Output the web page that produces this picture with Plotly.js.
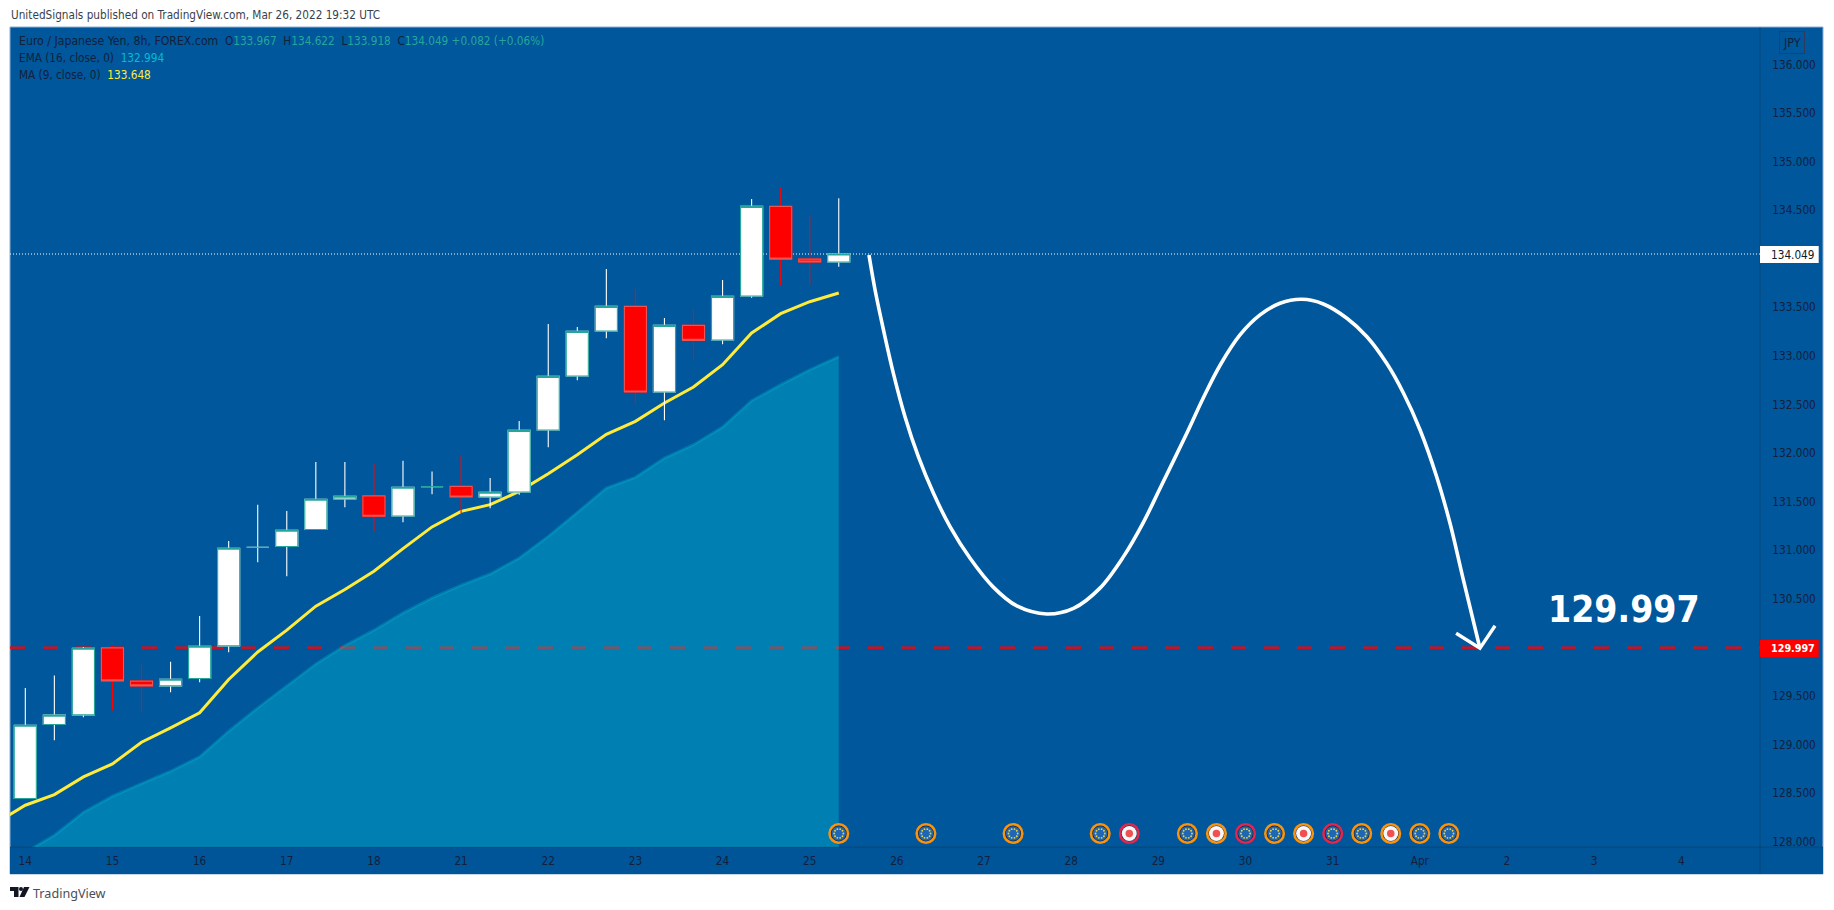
<!DOCTYPE html>
<html>
<head>
<meta charset="utf-8">
<script src="https://cdn.plot.ly/plotly-3.0.1.min.js"></script>
<style>html,body{margin:0;padding:0;background:#fff}#chart{width:1834px;height:910px}</style>
</head>
<body>
<div id="chart"></div>
<script>
// ---- Candles (bar index: 3 bars per trading day)
const barIndex = [0,1,2,3,4,5,6,7,8,9,10,11,12,13,14,15,16,17,18,19,20,21,22,23,24,25,26,27,28];
const open  = [128.444,129.206,129.305,129.995,129.652,129.604,129.679,130.015,131.031,131.038,131.213,131.528,131.559,131.353,131.655,131.657,131.548,131.599,132.237,132.793,133.256,133.510,132.628,133.315,133.164,133.617,134.540,133.997,133.967];
const high  = [129.583,129.710,130.005,130.022,129.840,129.851,130.324,131.096,131.467,131.405,131.909,131.909,131.892,131.920,131.810,131.973,131.743,132.330,133.328,133.298,133.895,133.689,133.390,133.476,133.781,134.615,134.739,134.440,134.622];
const low   = [128.444,129.044,129.281,129.350,129.326,129.538,129.641,129.950,130.876,130.732,131.213,131.443,131.199,131.288,131.576,131.383,131.431,131.572,132.059,132.749,133.181,132.515,132.337,132.954,133.119,133.600,133.726,133.733,133.918];
const close = [129.199,129.302,129.991,129.655,129.604,129.672,130.012,131.021,131.031,131.206,131.525,131.556,131.350,131.648,131.655,131.548,131.596,132.234,132.790,133.253,133.510,132.628,133.315,133.160,133.613,134.540,133.997,133.967,134.049];

// ---- Indicators
const maIndex = [-1,0,1,2,3,4,5,6,7,8,9,10,11,12,13,14,15,16,17,18,19,20,21,22,23,24,25,26,27,28];
const maValues = [128.193,128.375,128.485,128.667,128.801,129.024,129.171,129.326,129.669,129.953,130.177,130.424,130.595,130.784,131.017,131.240,131.400,131.469,131.606,131.788,131.983,132.193,132.327,132.515,132.680,132.910,133.236,133.435,133.558,133.648];
const emaValues = [127.890,128.066,128.303,128.468,128.598,128.725,128.873,129.137,129.377,129.600,129.830,130.019,130.177,130.355,130.509,130.640,130.755,130.920,131.143,131.390,131.640,131.750,131.949,132.086,132.268,132.539,132.704,132.858,132.994];

// ---- Horizontal levels
const targetLevel = 129.997;
const lastPrice = 134.049;

// ---- Hand-drawn projection
const curveX = [29.04,29.25,29.54,29.88,30.28,30.74,31.26,31.83,32.52,33.32,34.13,35.16,36.08,36.99,37.80,38.49,39.06,39.98,40.55,41.13,41.81,42.50,43.19,43.94,44.68,45.49,46.18,46.86,47.44,48.01,48.58,49.04,49.50,50.07];
const curveY = [134.039,133.679,133.267,132.821,132.375,131.963,131.586,131.243,130.917,130.620,130.426,130.344,130.402,130.610,130.934,131.290,131.638,132.204,132.570,132.907,133.216,133.422,133.542,133.583,133.535,133.388,133.198,132.924,132.616,132.238,131.757,131.277,130.694,129.991];
const arrowX = [49.25,50.07,50.59];
const arrowY = [130.145,129.991,130.223];

// ---- Economic event icons
const eventPrice = 128.084;
const euIndex = [28,31,34,37,40,42,43,45,46,48,49];
const euRing  = ['#f7930e','#f7930e','#f7930e','#f7930e','#f7930e','#e0274f','#f7930e','#e0274f','#f7930e','#f7930e','#f7930e'];
const usIndex = [38,41,44,47];
const usRing  = ['#e0274f','#f7930e','#f7930e','#f7930e'];

// ---- Axes
const xTickVals = [0,3,6,9,12,15,18,21,24,27,30,33,36,39,42,45,48,51,54,57];
const xTickText = ['14','15','16','17','18','21','22','23','24','25','26','27','28','29','30','31','Apr','2','3','4'];
const yTickVals = [128,128.5,129,129.5,130.5,131,131.5,132,132.5,133,133.5,134.5,135,135.5,136];
const xRange = [-0.527,59.71];
const yRange = [127.945,136.386];

// ---- Page geometry in pixels
const L=10,R=1760,T=27,B=847,OR=1823,OB=874;
const px = x => (x-L)/(R-L);
const py = y => (B-y)/(B-T);

const FONT = '"DejaVu Sans Condensed","DejaVu Sans",sans-serif';
const FS = 11.7;
const INK = 'rgb(20,32,60)';
const TEAL = '#26a69a';
const BG = 'rgb(0,87,155)';
const STRIP = 'rgb(0,84,152)';

const hide = {hoverinfo:'skip',showlegend:false};

// Stars of the EU icons, placed around each icon centre
const starX=[],starY=[];
euIndex.forEach(i=>{
  for(let k=0;k<10;k++){
    const a=k*Math.PI/5;
    starX.push(i+0.158*Math.cos(a));
    starY.push(eventPrice+0.047*Math.sin(a));
  }
});

const bodyHigh = open.map((o,i)=>Math.max(o,close[i]));
const bodyLow  = open.map((o,i)=>Math.min(o,close[i]));

const traces = [
  // target level, under the area
  {type:'scatter',mode:'lines',x:xRange,y:[targetLevel,targetLevel],line:{color:'#ff0000',width:2.4,dash:'15px,18px'},...hide},
  // last price
  {type:'scatter',mode:'lines',x:xRange,y:[lastPrice,lastPrice],line:{color:'#ffffff',width:1,dash:'1px,2px'},...hide},
  // EMA area
  {type:'scatter',mode:'lines',x:barIndex,y:emaValues,fill:'tozeroy',fillcolor:'rgba(0,188,212,0.4)',line:{color:'rgba(0,188,212,0.3)',width:3},...hide},
  // MA
  {type:'scatter',mode:'lines',x:maIndex,y:maValues,line:{color:'#ffeb3b',width:3},...hide},
  // wicks
  {type:'candlestick',x:barIndex,open:open,high:high,low:low,close:close,xaxis:'x2',yaxis:'y2',whiskerwidth:0,
   increasing:{line:{color:'#ffffff',width:1.1},fillcolor:'#ffffff'},
   decreasing:{line:{color:'#ff0000',width:1.1},fillcolor:'#ff0000'},...hide},
  // bodies
  {type:'candlestick',x:barIndex,open:open,high:bodyHigh,low:bodyLow,close:close,xaxis:'x2',yaxis:'y2',whiskerwidth:0,
   increasing:{line:{color:TEAL,width:1.1},fillcolor:'#ffffff'},
   decreasing:{line:{color:'#ef5350',width:1.1},fillcolor:'#ff0000'},...hide},
  // projection
  {type:'scatter',mode:'lines',x:curveX,y:curveY,xaxis:'x2',yaxis:'y2',line:{color:'#ffffff',width:3.6,shape:'spline',smoothing:1},...hide},
  {type:'scatter',mode:'lines',x:arrowX,y:arrowY,xaxis:'x2',yaxis:'y2',line:{color:'#ffffff',width:3.4},...hide},
  // event icons: EU
  {type:'scatter',mode:'markers',x:euIndex,y:euIndex.map(()=>eventPrice),xaxis:'x2',yaxis:'y2',
   marker:{symbol:'circle',size:18.5,color:'#16213a',line:{color:euRing,width:2.6}},...hide},
  {type:'scatter',mode:'markers',x:euIndex,y:euIndex.map(()=>eventPrice),xaxis:'x2',yaxis:'y2',
   marker:{symbol:'circle',size:14.5,color:'#1f66b5'},...hide},
  {type:'scatter',mode:'markers',x:starX,y:starY,xaxis:'x2',yaxis:'y2',
   marker:{symbol:'circle',size:1.9,color:'#e8d33a'},...hide},
  // event icons: US
  {type:'scatter',mode:'markers',x:usIndex,y:usIndex.map(()=>eventPrice),xaxis:'x2',yaxis:'y2',
   marker:{symbol:'circle',size:18.5,color:'#16213a',line:{color:usRing,width:2.6}},...hide},
  {type:'scatter',mode:'markers',x:usIndex,y:usIndex.map(()=>eventPrice),xaxis:'x2',yaxis:'y2',
   marker:{symbol:'circle',size:15,color:'#f5f6f8'},...hide},
  {type:'scatter',mode:'markers',x:usIndex,y:usIndex.map(()=>eventPrice),xaxis:'x2',yaxis:'y2',
   marker:{symbol:'circle',size:7.5,color:'#f0504f'},...hide}
];

const note = (x,y,text,o={}) => Object.assign({xref:'paper',yref:'paper',x:px(x),y:py(y),text:text,showarrow:false,
  xanchor:'left',yanchor:'middle',align:'left',font:{family:FONT,size:FS,color:INK}},o);
const v = (t,c) => `<span style="color:${c}">${t}</span>`;

const annotations = [
  note(9,15,'UnitedSignals published on TradingView.com, Mar 26, 2022 19:32 UTC',{font:{family:FONT,size:FS,color:'#3a3f4b'}}),
  note(17,41,'<span style="font-size:12.2px">Euro / Japanese Yen, 8h, FOREX.com</span>  O'+v('133.967',TEAL)+'  H'+v('134.622',TEAL)+'  L'+v('133.918',TEAL)+'  C'+v('134.049',TEAL)+' '+v('+0.082 (+0.06%)',TEAL)),
  note(17,58,'EMA (16, close, 0)  '+v('132.994','#00bcd4')),
  note(17,75,'MA (9, close, 0)  '+v('133.648','#ffeb3b')),
  note(1792,42.5,'JPY',{xanchor:'center',bordercolor:'rgb(45,60,90)',borderwidth:1,borderpad:3,font:{family:FONT,size:12.5,color:INK}}),
  note(1769,255,'134.049',{font:{family:FONT,size:FS,color:'#131722'}}),
  note(1769,648.5,'<b>129.997</b>',{font:{family:FONT,size:FS-1,color:'#ffffff'}}),
  note(1546,609,'<b>129.997</b>',{font:{family:FONT,size:37,color:'#ffffff'}}),
  note(31,893,'TradingView',{font:{family:'"Noto Sans",sans-serif',size:12.6,color:'#4a4e57'}})
];

const P = (x,y) => px(x)+','+py(y);
const shapes = [
  {type:'rect',xref:'paper',yref:'paper',layer:'below',x0:px(L),x1:px(OR),y0:py(OB),y1:py(T),fillcolor:BG,line:{color:'rgb(140,175,210)',width:1}},
  {type:'rect',xref:'paper',yref:'paper',layer:'below',x0:px(L),x1:px(OR),y0:py(OB),y1:py(B),fillcolor:STRIP,line:{width:0}},
  {type:'line',xref:'paper',yref:'paper',layer:'below',x0:px(R),x1:px(R),y0:py(OB),y1:py(T),line:{color:'rgba(19,23,34,0.25)',width:1}},
  {type:'line',xref:'paper',yref:'paper',layer:'below',x0:px(L),x1:px(OR),y0:py(B),y1:py(B),line:{color:'rgba(19,23,34,0.25)',width:1}},
  {type:'rect',xref:'paper',yref:'paper',layer:'above',x0:px(R),x1:px(1818.7),y0:py(263),y1:py(246),fillcolor:'#ffffff',line:{width:0}},
  {type:'rect',xref:'paper',yref:'paper',layer:'above',x0:px(R),x1:px(1818.7),y0:py(657),y1:py(640),fillcolor:'#ff0000',line:{width:0}},
  // TradingView logo
  {type:'path',xref:'paper',yref:'paper',fillcolor:'#131722',line:{width:0},path:'M'+P(10,887)+' L'+P(18.5,887)+' L'+P(18.5,897)+' L'+P(14,897)+' L'+P(14,891)+' L'+P(10,891)+' Z'},
  {type:'path',xref:'paper',yref:'paper',fillcolor:'#131722',line:{width:0},path:'M'+P(24,887)+' L'+P(29.5,887)+' L'+P(24.5,897)+' L'+P(19.5,897)+' Z'},
  {type:'circle',xref:'paper',yref:'paper',fillcolor:'#131722',line:{width:0},x0:px(19),x1:px(23),y0:py(891),y1:py(887)}
];

const layout = {
  width:1834,height:910,autosize:false,
  margin:{l:L,r:1834-R,t:T,b:910-B,pad:0},
  paper_bgcolor:'#ffffff',plot_bgcolor:'rgba(0,0,0,0)',
  showlegend:false,boxgap:0.24,boxgroupgap:0,boxmode:'overlay',hovermode:false,
  font:{family:FONT,size:FS,color:INK},
  xaxis:{range:xRange,tickmode:'array',tickvals:xTickVals,ticktext:xTickText,showgrid:false,zeroline:false,showline:false,
    ticks:'outside',ticklen:3,tickcolor:'rgba(0,0,0,0)',tickfont:{family:FONT,size:FS,color:INK},rangeslider:{visible:false},fixedrange:true},
  yaxis:{range:yRange,side:'right',tickmode:'array',tickvals:yTickVals,tickformat:'.3f',showgrid:false,zeroline:false,showline:false,
    ticks:'outside',ticklen:9,tickcolor:'rgba(0,0,0,0)',tickfont:{family:FONT,size:FS,color:INK},fixedrange:true},
  xaxis2:{range:xRange,overlaying:'x',visible:false,rangeslider:{visible:false},fixedrange:true},
  yaxis2:{range:yRange,overlaying:'y',visible:false,fixedrange:true},
  annotations:annotations,shapes:shapes
};
Plotly.newPlot('chart',traces,layout,{displayModeBar:false,staticPlot:true});
</script>
</body>
</html>
